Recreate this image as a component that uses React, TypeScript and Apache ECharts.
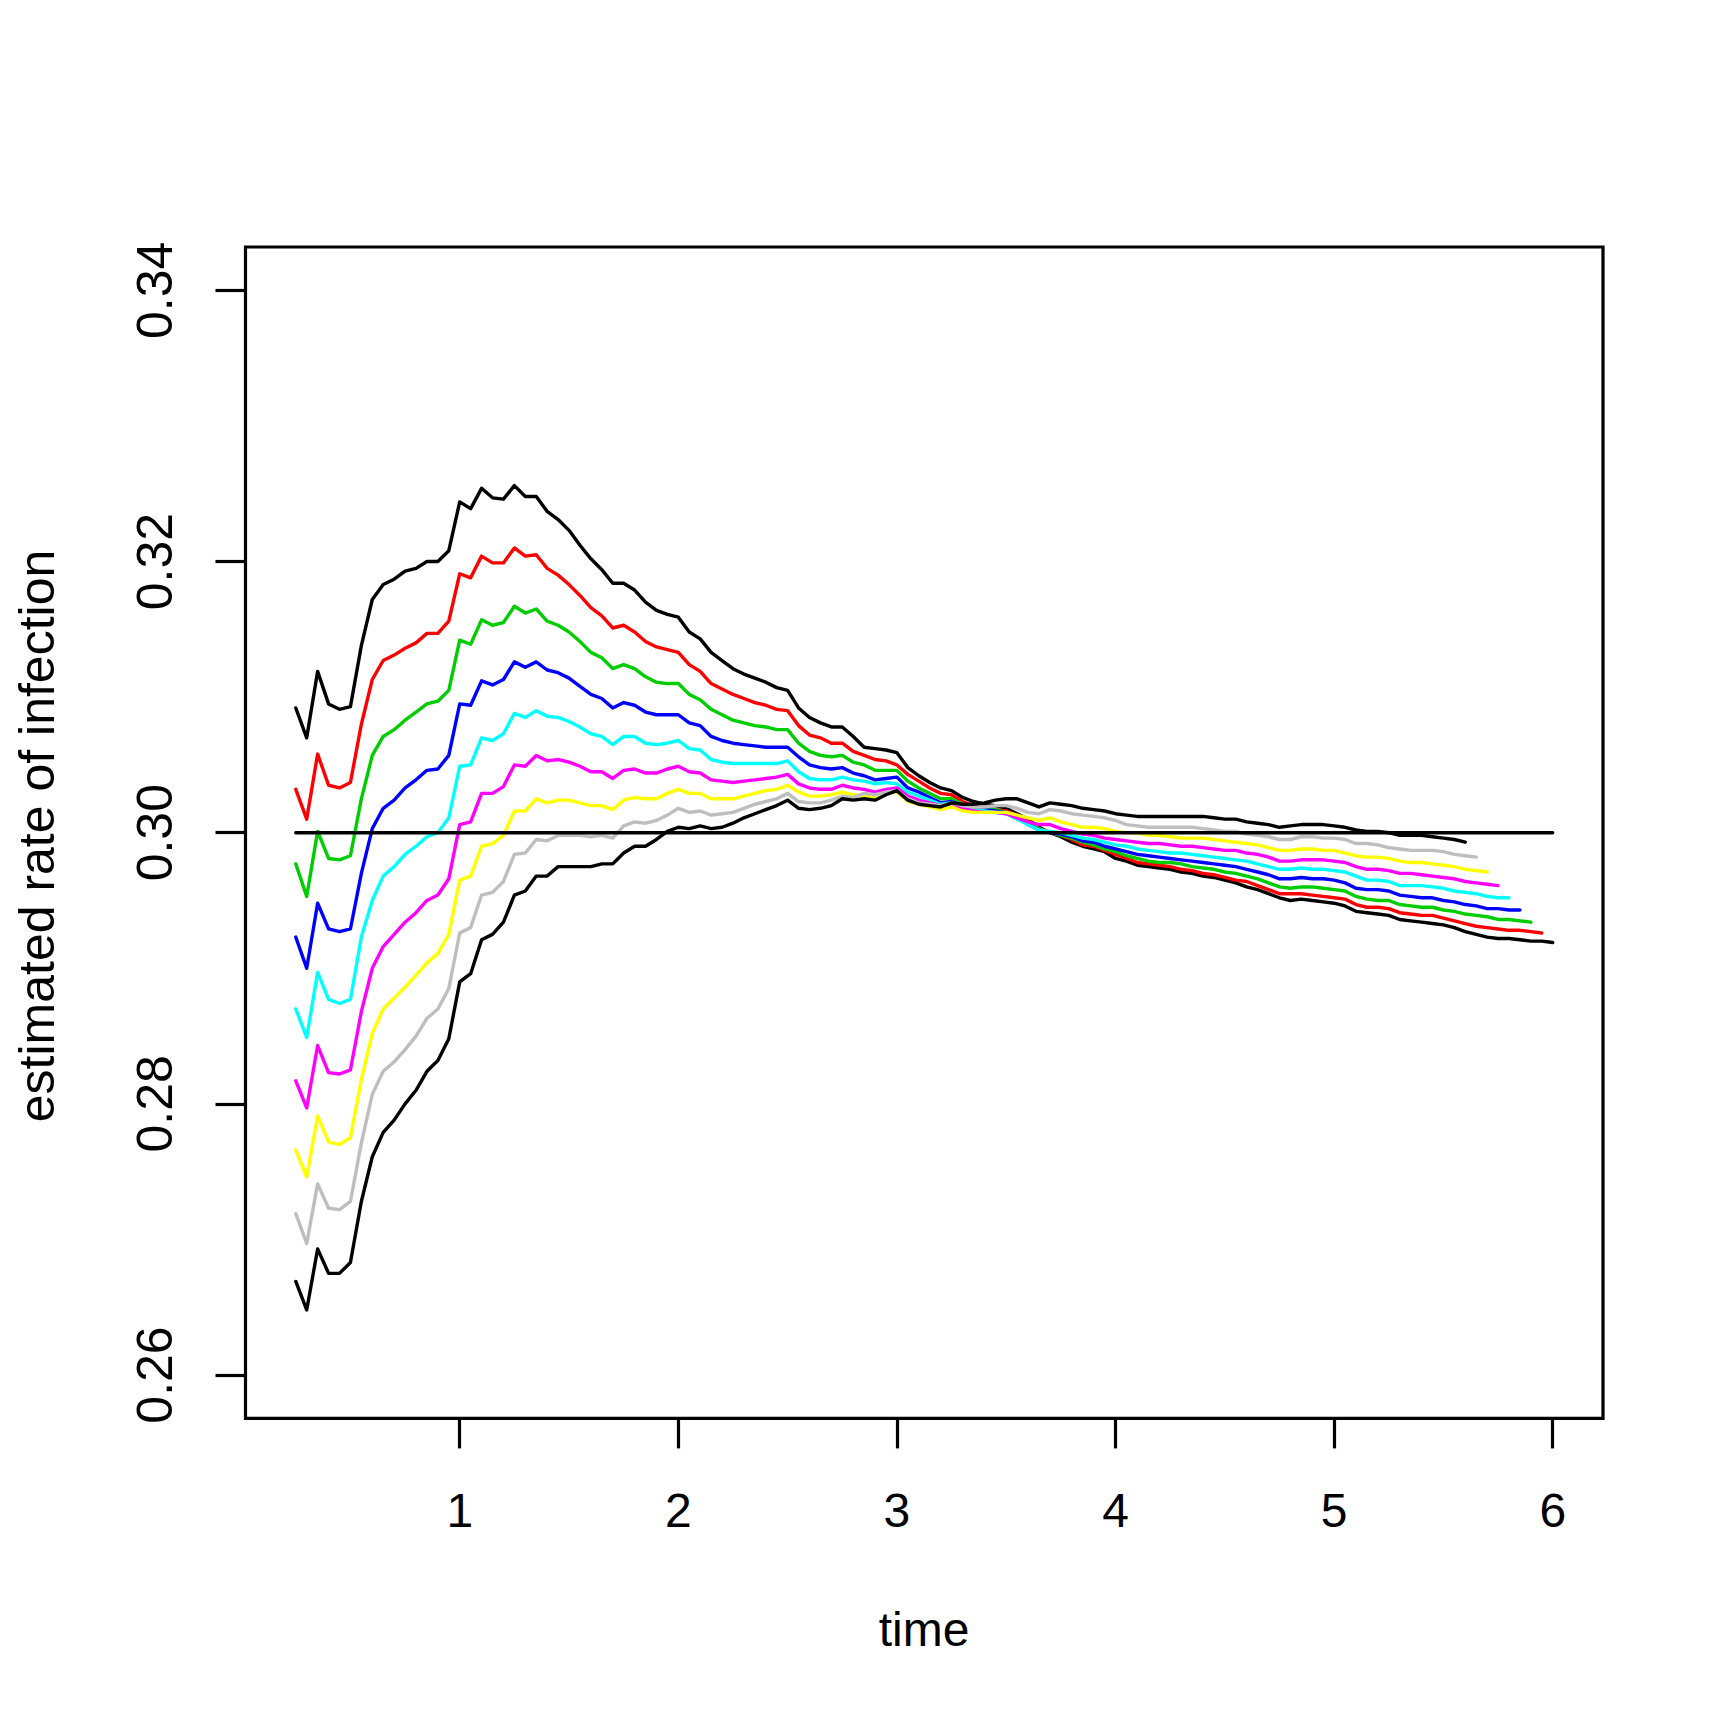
import React, { useEffect, useRef } from "react";
import * as echarts from "echarts";

const times = [
  0.25, 0.3, 0.35, 0.4, 0.45, 0.5, 0.55, 0.6, 0.65, 0.7,
  0.75, 0.8, 0.85, 0.9, 0.95, 1, 1.05, 1.1, 1.15, 1.2,
  1.25, 1.3, 1.35, 1.4, 1.45, 1.5, 1.55, 1.6, 1.65, 1.7,
  1.75, 1.8, 1.85, 1.9, 1.95, 2, 2.05, 2.1, 2.15, 2.2,
  2.25, 2.3, 2.35, 2.4, 2.45, 2.5, 2.55, 2.6, 2.65, 2.7,
  2.75, 2.8, 2.85, 2.9, 2.95, 3, 3.05, 3.1, 3.15, 3.2,
  3.25, 3.3, 3.35, 3.4, 3.45, 3.5, 3.55, 3.6, 3.65, 3.7,
  3.75, 3.8, 3.85, 3.9, 3.95, 4, 4.05, 4.1, 4.15, 4.2,
  4.25, 4.3, 4.35, 4.4, 4.45, 4.5, 4.55, 4.6, 4.65, 4.7,
  4.75, 4.8, 4.85, 4.9, 4.95, 5, 5.05, 5.1, 5.15, 5.2,
  5.25, 5.3, 5.35, 5.4, 5.45, 5.5, 5.55, 5.6, 5.65, 5.7,
  5.75, 5.8, 5.85, 5.9, 5.95, 6,
];

const blackTop = [
  0.3092, 0.307, 0.3119, 0.3095, 0.3091, 0.3093, 0.3138, 0.3172, 0.3183, 0.3187, 0.3193, 0.3195,
  0.32, 0.32, 0.3208, 0.3244, 0.3239, 0.3254, 0.3247, 0.3246, 0.3256, 0.3248, 0.3248, 0.3237,
  0.3231, 0.3223, 0.3212, 0.3202, 0.3194, 0.3184, 0.3184, 0.3179, 0.317, 0.3164, 0.3161, 0.3159,
  0.3148, 0.3143, 0.3133, 0.3127, 0.3121, 0.3117, 0.3114, 0.3111, 0.3107, 0.3105, 0.3092, 0.3085,
  0.3081, 0.3078, 0.3078, 0.3071,
  0.3063, 0.3062, 0.3061, 0.3059, 0.3048, 0.3042, 0.3037, 0.3033, 0.3031, 0.3026, 0.3023, 0.3021,
  0.302, 0.3018, 0.3014, 0.301, 0.3004, 0.3, 0.2997, 0.2993, 0.299, 0.2988, 0.2986, 0.2981,
  0.2979, 0.2976, 0.2975,
  0.2974, 0.2973, 0.2971, 0.297, 0.2968, 0.2967, 0.2965, 0.2963, 0.296, 0.2958, 0.2955, 0.2952,
  0.295, 0.2951, 0.295, 0.2949, 0.2948, 0.2946, 0.2942,
  0.2941, 0.294, 0.2939, 0.2936, 0.2935, 0.2934, 0.2933, 0.2932, 0.293, 0.2927, 0.2925, 0.2923,
  0.2922, 0.2922, 0.2921, 0.292, 0.292, 0.2919,
];

const red = [
  0.3032, 0.301, 0.3058, 0.3035, 0.3033, 0.3037, 0.308, 0.3113, 0.3127, 0.3131, 0.3136, 0.314,
  0.3147, 0.3147, 0.3156, 0.3191, 0.3188, 0.3204, 0.3199, 0.3199, 0.321, 0.3204, 0.3205, 0.3195,
  0.319, 0.3183, 0.3175, 0.3166, 0.316, 0.3151, 0.3153, 0.3148, 0.3141, 0.3137, 0.3135, 0.3133,
  0.3124, 0.3119, 0.311, 0.3106, 0.3102, 0.3099, 0.3096, 0.3094, 0.3091, 0.309, 0.3079, 0.3072,
  0.307, 0.3066, 0.3066, 0.306,
  0.3057, 0.3054, 0.3053, 0.305, 0.3043, 0.3038, 0.3033, 0.3029, 0.3028, 0.3023, 0.302, 0.3019,
  0.3017, 0.3016, 0.3013, 0.3008, 0.3003, 0.3, 0.2998, 0.2995, 0.2991, 0.299, 0.2987, 0.2984,
  0.2981, 0.2978, 0.2977,
  0.2976, 0.2975, 0.2973, 0.2972, 0.297, 0.2969, 0.2967, 0.2965, 0.2964, 0.2961, 0.2958, 0.2955,
  0.2955, 0.2955, 0.2954, 0.2953, 0.2952, 0.2951, 0.2947,
  0.2945, 0.2945, 0.2944, 0.2941, 0.294, 0.2939, 0.2939, 0.2937, 0.2935, 0.2933, 0.2931, 0.293,
  0.2929, 0.2928, 0.2928, 0.2927, 0.2926,
];

const green = [
  0.2977, 0.2953, 0.3001, 0.2981, 0.298, 0.2983, 0.3025, 0.3057, 0.3071, 0.3076, 0.3083, 0.3089,
  0.3095, 0.3097, 0.3105, 0.3142, 0.3139, 0.3157, 0.3153, 0.3155, 0.3167, 0.3162, 0.3165, 0.3156,
  0.3153, 0.3148, 0.3141, 0.3133, 0.3129, 0.3121, 0.3124, 0.3121, 0.3115, 0.3111, 0.311, 0.311,
  0.3102, 0.3098, 0.3091, 0.3087, 0.3083, 0.3081, 0.3079, 0.3078, 0.3076, 0.3076, 0.3066, 0.306,
  0.3057, 0.3056, 0.3057, 0.3052,
  0.305, 0.3046, 0.3046, 0.3046, 0.3038, 0.3033, 0.3029, 0.3025, 0.3025, 0.3021, 0.3019, 0.3018,
  0.3017, 0.3015, 0.3012, 0.3007, 0.3003, 0.3, 0.2998, 0.2996, 0.2993, 0.2991, 0.2988, 0.2986,
  0.2983, 0.2981, 0.2979,
  0.2978, 0.2978, 0.2977, 0.2975, 0.2974, 0.2973, 0.2971, 0.297, 0.2968, 0.2966, 0.2963, 0.296,
  0.2959, 0.296, 0.296, 0.2959, 0.2958, 0.2957, 0.2953,
  0.2951, 0.295, 0.295, 0.2947, 0.2946, 0.2945, 0.2945, 0.2943, 0.2942, 0.294, 0.2939, 0.2938,
  0.2936, 0.2936, 0.2935, 0.2934,
];

const blue = [
  0.2923, 0.29, 0.2948, 0.2929, 0.2927, 0.2929, 0.297, 0.3003, 0.3018, 0.3024, 0.3033, 0.3039,
  0.3046, 0.3047, 0.3057, 0.3095, 0.3094, 0.3112, 0.3109, 0.3113, 0.3126, 0.3122, 0.3126, 0.312,
  0.3118, 0.3114, 0.3108, 0.3102, 0.3099, 0.3092, 0.3096, 0.3094, 0.3089, 0.3087, 0.3087, 0.3087,
  0.3081, 0.3079, 0.3071, 0.3068, 0.3066, 0.3065, 0.3064, 0.3063, 0.3063, 0.3063, 0.3056, 0.305,
  0.3048, 0.3047, 0.3048, 0.3044,
  0.3042, 0.3039, 0.304, 0.3041, 0.3033, 0.303, 0.3026, 0.3022, 0.3023, 0.302, 0.3018, 0.3017,
  0.3016, 0.3015, 0.3011, 0.3006, 0.3002, 0.3, 0.2999, 0.2997, 0.2994, 0.2993, 0.299, 0.2988,
  0.2986, 0.2984, 0.2983,
  0.2982, 0.2981, 0.298, 0.2979, 0.2978, 0.2977, 0.2976, 0.2975, 0.2973, 0.2971, 0.2969, 0.2966,
  0.2966, 0.2967, 0.2966, 0.2966, 0.2965, 0.2963, 0.2959,
  0.2958, 0.2958, 0.2957, 0.2954, 0.2953, 0.2952, 0.2952, 0.295, 0.2949, 0.2947, 0.2946, 0.2944,
  0.2944, 0.2943, 0.2943,
];

const cyan = [
  0.287, 0.2849, 0.2897, 0.2877, 0.2874, 0.2877, 0.2923, 0.295, 0.2968, 0.2975, 0.2984, 0.299,
  0.2997, 0.3, 0.3011, 0.3049, 0.305, 0.307, 0.3068, 0.3073, 0.3088, 0.3085, 0.309, 0.3086,
  0.3085, 0.3082, 0.3078, 0.3073, 0.3071, 0.3065, 0.3071, 0.3071, 0.3066, 0.3065, 0.3066, 0.3068,
  0.3062, 0.3061, 0.3054, 0.3052, 0.3051, 0.3051, 0.3051, 0.3051, 0.3051, 0.3053, 0.3045, 0.304,
  0.3039, 0.3039, 0.3041, 0.3039,
  0.3038, 0.3036, 0.3037, 0.3036, 0.303, 0.3027, 0.3024, 0.3021, 0.3022, 0.3019, 0.3017, 0.3016,
  0.3015, 0.3014, 0.301, 0.3006, 0.3002, 0.3001, 0.3, 0.2998, 0.2996, 0.2995, 0.2993, 0.2991,
  0.299, 0.2988, 0.2987,
  0.2986, 0.2985, 0.2985, 0.2984, 0.2983, 0.2982, 0.2981, 0.298, 0.2979, 0.2977, 0.2975, 0.2973,
  0.2973, 0.2974, 0.2973, 0.2973, 0.2972, 0.2971, 0.2968,
  0.2965, 0.2965, 0.2964, 0.2961, 0.2961, 0.2961, 0.296, 0.2959, 0.2957, 0.2956, 0.2955, 0.2953,
  0.2952, 0.2952,
];

const magenta = [
  0.2817, 0.2797, 0.2843, 0.2823, 0.2822, 0.2825, 0.2868, 0.29, 0.2916, 0.2925, 0.2934, 0.2941,
  0.295, 0.2954, 0.2966, 0.3006, 0.3008, 0.3029, 0.3029, 0.3034, 0.305, 0.3049, 0.3057, 0.3053,
  0.3054, 0.3052, 0.3049, 0.3045, 0.3045, 0.304, 0.3046, 0.3047, 0.3044, 0.3044, 0.3047, 0.3049,
  0.3045, 0.3044, 0.3039, 0.3038, 0.3037, 0.3038, 0.3039, 0.304, 0.3041, 0.3043, 0.3036, 0.3033,
  0.3032, 0.3032, 0.3035, 0.3033,
  0.3032, 0.303, 0.3032, 0.3033, 0.3027, 0.3024, 0.3022, 0.302, 0.3021, 0.3018, 0.3016, 0.3015,
  0.3015, 0.3014, 0.3011, 0.3008, 0.3006, 0.3006, 0.3003, 0.3001, 0.2999, 0.2998, 0.2996, 0.2995,
  0.2994, 0.2993, 0.2992,
  0.2992, 0.2991, 0.299, 0.299, 0.2989, 0.2988, 0.2987, 0.2987, 0.2985, 0.2984, 0.2982, 0.2979,
  0.2979, 0.298, 0.298, 0.298, 0.2979, 0.2978, 0.2975,
  0.2973, 0.2973, 0.2972, 0.297, 0.297, 0.2969, 0.2968, 0.2967, 0.2966, 0.2964, 0.2963, 0.2962,
  0.2961,
];

const yellow = [
  0.2766, 0.2746, 0.2791, 0.2772, 0.277, 0.2775, 0.2818, 0.2852, 0.287, 0.2878, 0.2886, 0.2895,
  0.2904, 0.2911, 0.2925, 0.2965, 0.2968, 0.299, 0.2992, 0.2998, 0.3016, 0.3016, 0.3025, 0.3022,
  0.3024, 0.3024, 0.3022, 0.302, 0.302, 0.3017, 0.3024, 0.3026, 0.3025, 0.3025, 0.3029, 0.3032,
  0.3029, 0.3029, 0.3025, 0.3025, 0.3025, 0.3027, 0.3029, 0.3031, 0.3032, 0.3035, 0.303, 0.3027,
  0.3027, 0.3028, 0.303, 0.3028,
  0.3027, 0.3026, 0.3029, 0.303, 0.3023, 0.3021, 0.3019, 0.3017, 0.3019, 0.3016, 0.3015, 0.3015,
  0.3015, 0.3015, 0.3013, 0.3011, 0.3009, 0.3011, 0.3008, 0.3006, 0.3004, 0.3004, 0.3003, 0.3001,
  0.3, 0.3, 0.2998,
  0.2998, 0.2997, 0.2996, 0.2996, 0.2996, 0.2995, 0.2994, 0.2993, 0.2992, 0.2991, 0.2989, 0.2987,
  0.2987, 0.2988, 0.2988, 0.2987, 0.2987, 0.2985, 0.2983,
  0.2982, 0.2982, 0.2981, 0.2979, 0.2978, 0.2978, 0.2977, 0.2976, 0.2975, 0.2973, 0.2972, 0.2971,
];

const gray = [
  0.2719, 0.2697, 0.2741, 0.2723, 0.2722, 0.2728, 0.2771, 0.2807, 0.2824, 0.2831, 0.284, 0.285,
  0.2863, 0.287, 0.2885, 0.2926, 0.293, 0.2954, 0.2956, 0.2964, 0.2984, 0.2985, 0.2995, 0.2994,
  0.2998, 0.2998, 0.2998, 0.2997, 0.2998, 0.2996, 0.3005, 0.3008, 0.3007, 0.3009, 0.3013, 0.3018,
  0.3015, 0.3016, 0.3013, 0.3014, 0.3015, 0.3018, 0.3021, 0.3023, 0.3025, 0.3029, 0.3023, 0.3022,
  0.3022, 0.3024, 0.3027, 0.3026,
  0.3029, 0.3028, 0.303, 0.3031, 0.3025, 0.3022, 0.3021, 0.302, 0.3022, 0.302, 0.3019, 0.3019,
  0.302, 0.302, 0.3018, 0.3015, 0.3014, 0.3017, 0.3016, 0.3014, 0.3013, 0.3012, 0.3011, 0.3009,
  0.3006, 0.3005, 0.3004,
  0.3004, 0.3004, 0.3004, 0.3004, 0.3003, 0.3002, 0.3001, 0.3001, 0.2999, 0.2998, 0.2997, 0.2995,
  0.2995, 0.2997, 0.2997, 0.2996, 0.2996, 0.2995, 0.2992,
  0.2992, 0.2991, 0.2989, 0.2988, 0.2987, 0.2987, 0.2987, 0.2986, 0.2984, 0.2983, 0.2982,
];

const blackBottom = [
  0.2669, 0.2648, 0.2693, 0.2675, 0.2675, 0.2683, 0.2728, 0.2761, 0.2779, 0.2788, 0.28, 0.281,
  0.2824, 0.2832, 0.2848, 0.289, 0.2896, 0.2921, 0.2925, 0.2934, 0.2954, 0.2957, 0.2968, 0.2968,
  0.2975, 0.2975, 0.2975, 0.2975, 0.2977, 0.2977, 0.2985, 0.299, 0.299, 0.2995, 0.3001, 0.3004,
  0.3003, 0.3005, 0.3003, 0.3004, 0.3007, 0.3011, 0.3014, 0.3017, 0.302, 0.3024, 0.3018, 0.3017,
  0.3018, 0.302, 0.3025, 0.3024,
  0.3025, 0.3024, 0.3028, 0.3031, 0.3024, 0.3021, 0.302, 0.3019, 0.3022, 0.3021, 0.3021, 0.3022,
  0.3024, 0.3025, 0.3025, 0.3022, 0.3019, 0.3022, 0.3021, 0.302, 0.3018, 0.3017, 0.3016, 0.3014,
  0.3013, 0.3012, 0.3012,
  0.3012, 0.3012, 0.3012, 0.3012, 0.3012, 0.3011, 0.301, 0.301, 0.3008, 0.3007, 0.3006, 0.3004,
  0.3005, 0.3006, 0.3006, 0.3006, 0.3005, 0.3004, 0.3002,
  0.3001, 0.3001, 0.3, 0.2998, 0.2998, 0.2998, 0.2997, 0.2996, 0.2995, 0.2993,
];

const seriesValues = [blackTop, red, green, blue, cyan, magenta, yellow, gray, blackBottom];
const seriesColors = [
  "#000000", "#FF0000", "#00CD00", "#0000FF", "#00FFFF", "#FF00FF", "#FFFF00", "#BEBEBE", "#000000",
];
const xTicks = [1, 2, 3, 4, 5, 6];
const yTicks = [0.26, 0.28, 0.3, 0.32, 0.34];
const refLevel = 0.3;
const xLabel = "time";
const yLabel = "estimated rate of infection";

export default function App() {
  const ref = useRef<HTMLDivElement>(null);
  useEffect(() => {
    document.body.style.margin = "0";
    const chart = echarts.init(ref.current!, null, { renderer: "svg" });
    const font = "Liberation Sans";
    const series: any[] = seriesValues.map((vals, k) => ({
      type: "line",
      data: vals.map((v, i) => [times[i], v]),
      showSymbol: false,
      symbol: "none",
      silent: true,
      z: 2 + k,
      lineStyle: { color: seriesColors[k], width: 3.4, cap: "round", join: "round" },
    }));
    series.push({
      type: "line",
      data: [
        [times[0], refLevel],
        [times[times.length - 1], refLevel],
      ],
      showSymbol: false,
      symbol: "none",
      silent: true,
      z: 20,
      lineStyle: { color: "#000000", width: 3.4, cap: "round" },
    });
    chart.setOption({
      animation: false,
      backgroundColor: "#ffffff",
      grid: {
        left: 245.5,
        top: 247,
        width: 1357.5,
        height: 1171.4,
        show: true,
        borderColor: "#000000",
        borderWidth: 3.2,
        backgroundColor: "transparent",
        containLabel: false,
      },
      xAxis: {
        type: "value",
        min: 0.02,
        max: 6.23,
        axisLine: { show: false },
        splitLine: { show: false },
        axisTick: {
          show: true,
          customValues: xTicks,
          length: 30,
          inside: false,
          lineStyle: { color: "#000000", width: 3.2 },
        },
        axisLabel: {
          customValues: xTicks,
          formatter: (v: number) => String(v),
          fontSize: 48,
          fontFamily: font,
          color: "#000000",
          margin: 68,
        },
      },
      yAxis: {
        type: "value",
        min: 0.2568,
        max: 0.3432,
        axisLine: { show: false },
        splitLine: { show: false },
        axisTick: {
          show: true,
          customValues: yTicks,
          length: 30,
          inside: false,
          lineStyle: { color: "#000000", width: 3.2 },
        },
        axisLabel: {
          customValues: yTicks,
          formatter: (v: number) => v.toFixed(2),
          rotate: 90,
          fontSize: 50,
          fontFamily: font,
          color: "#000000",
          margin: 66,
        },
      },
      graphic: [
        {
          type: "text",
          x: 924,
          y: 1629,
          style: {
            text: xLabel,
            fontSize: 48,
            fontFamily: font,
            fill: "#000000",
            align: "center",
            verticalAlign: "middle",
          },
        },
        {
          type: "text",
          x: 37,
          y: 836,
          rotation: Math.PI / 2,
          style: {
            text: yLabel,
            fontSize: 50,
            fontFamily: font,
            fill: "#000000",
            align: "center",
            verticalAlign: "middle",
          },
        },
      ],
      series,
    });
    return () => chart.dispose();
  }, []);
  return (
    <div
      ref={ref}
      style={{ position: "absolute", left: 0, top: 0, width: 1729, height: 1725 }}
    />
  );
}
